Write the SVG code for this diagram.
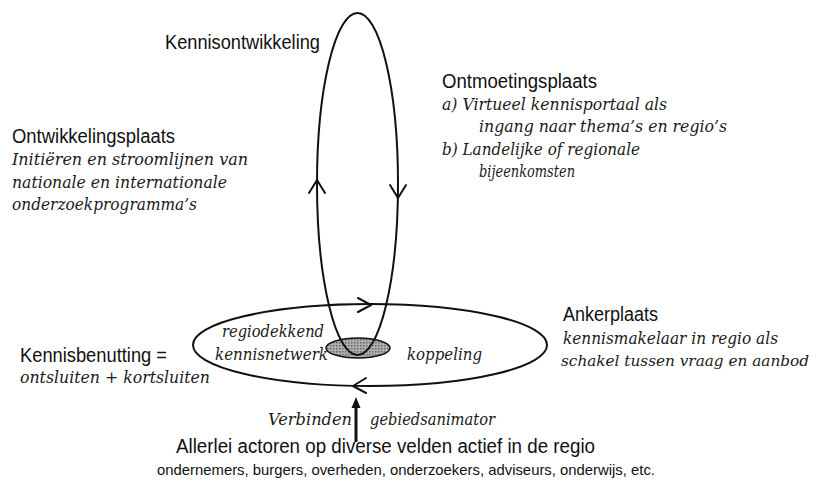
<svg xmlns="http://www.w3.org/2000/svg" width="816" height="484" viewBox="0 0 816 484">
<style>
.sans{font-family:"Liberation Sans",Arial,sans-serif;font-size:20px;fill:#111}
.ser{font-family:"DejaVu Serif",serif;font-style:italic;font-size:16px;fill:#1a1a1a}
.ln{fill:none;stroke:#111;stroke-width:2}
.chev{fill:none;stroke:#111;stroke-width:2;stroke-linecap:round;stroke-linejoin:round}
</style>
<defs>
<pattern id="dots" width="3" height="3" patternUnits="userSpaceOnUse">
<rect width="3" height="3" fill="#b0b0b0"/>
<rect width="1.5" height="1.5" fill="#666"/>
</pattern>
</defs>
<g id="connectors">
<ellipse id="grey" cx="358" cy="348" rx="32" ry="10" fill="url(#dots)" stroke="#111" stroke-width="1.5"/>
<ellipse class="ln" cx="370" cy="345" rx="177" ry="41"/>
<ellipse class="ln" cx="357.5" cy="184" rx="40.5" ry="171"/>
<path class="chev" d="M309,193 L317,180 L325,193"/>
<path class="chev" d="M390,185 L398,198 L406,185"/>
<path class="chev" d="M358,298 L371,305 L358,312"/>
<path class="chev" d="M366,378 L353,386 L366,393"/>
<line x1="356" y1="442" x2="356" y2="406" stroke="#111" stroke-width="3"/>
<polygon points="351.5,408 356,397 360.5,408" fill="#111"/>
</g>
<g id="kennisontwikkeling"><text class="sans" x="165" y="49" textLength="155" lengthAdjust="spacingAndGlyphs">Kennisontwikkeling</text></g>
<g id="ontmoetingsplaats">
<text class="sans" x="442" y="88" textLength="155" lengthAdjust="spacingAndGlyphs">Ontmoetingsplaats</text>
<text class="ser" x="442" y="110" textLength="225" lengthAdjust="spacingAndGlyphs">a) Virtueel kennisportaal als</text>
<text class="ser" x="479" y="132" textLength="248" lengthAdjust="spacingAndGlyphs">ingang naar thema’s en regio’s</text>
<text class="ser" x="442" y="155" textLength="198" lengthAdjust="spacingAndGlyphs">b) Landelijke of regionale</text>
<text class="ser" x="479" y="177" textLength="96" lengthAdjust="spacingAndGlyphs">bijeenkomsten</text>
</g>
<g id="ontwikkelingsplaats">
<text class="sans" x="12" y="143" textLength="163" lengthAdjust="spacingAndGlyphs">Ontwikkelingsplaats</text>
<text class="ser" x="12" y="165" textLength="236" lengthAdjust="spacingAndGlyphs">Initiëren en stroomlijnen van</text>
<text class="ser" x="12" y="188" textLength="215" lengthAdjust="spacingAndGlyphs">nationale en internationale</text>
<text class="ser" x="12" y="210" textLength="185" lengthAdjust="spacingAndGlyphs">onderzoekprogramma’s</text>
</g>
<g id="ankerplaats">
<text class="sans" x="563" y="321" textLength="95" lengthAdjust="spacingAndGlyphs">Ankerplaats</text>
<text class="ser" x="563" y="344" textLength="215" lengthAdjust="spacingAndGlyphs">kennismakelaar in regio als</text>
<text class="ser" x="561" y="366" style="font-size:14px" textLength="248" lengthAdjust="spacingAndGlyphs">schakel tussen vraag en aanbod</text>
</g>
<g id="kennisbenutting">
<text class="sans" x="20" y="362" textLength="147" lengthAdjust="spacingAndGlyphs">Kennisbenutting =</text>
<text class="ser" x="20" y="383" textLength="190" lengthAdjust="spacingAndGlyphs">ontsluiten + kortsluiten</text>
</g>
<g id="netwerk">
<text class="ser" x="222" y="337" textLength="102" lengthAdjust="spacingAndGlyphs">regiodekkend</text>
<text class="ser" x="215" y="360" textLength="113" lengthAdjust="spacingAndGlyphs">kennisnetwerk</text>
</g>
<g id="koppeling"><text class="ser" x="407" y="360" textLength="75" lengthAdjust="spacingAndGlyphs">koppeling</text></g>
<g id="verbinden">
<text class="ser" x="268" y="425" textLength="84" lengthAdjust="spacingAndGlyphs">Verbinden</text>
<text class="ser" x="370" y="425" textLength="125" lengthAdjust="spacingAndGlyphs">gebiedsanimator</text>
</g>
<g id="actoren">
<text class="sans" x="176" y="453" textLength="419" lengthAdjust="spacingAndGlyphs">Allerlei actoren op diverse velden actief in de regio</text>
<text class="sans" x="157" y="475" style="font-size:15px" textLength="498" lengthAdjust="spacingAndGlyphs">ondernemers, burgers, overheden, onderzoekers, adviseurs, onderwijs, etc.</text>
</g>
</svg>
